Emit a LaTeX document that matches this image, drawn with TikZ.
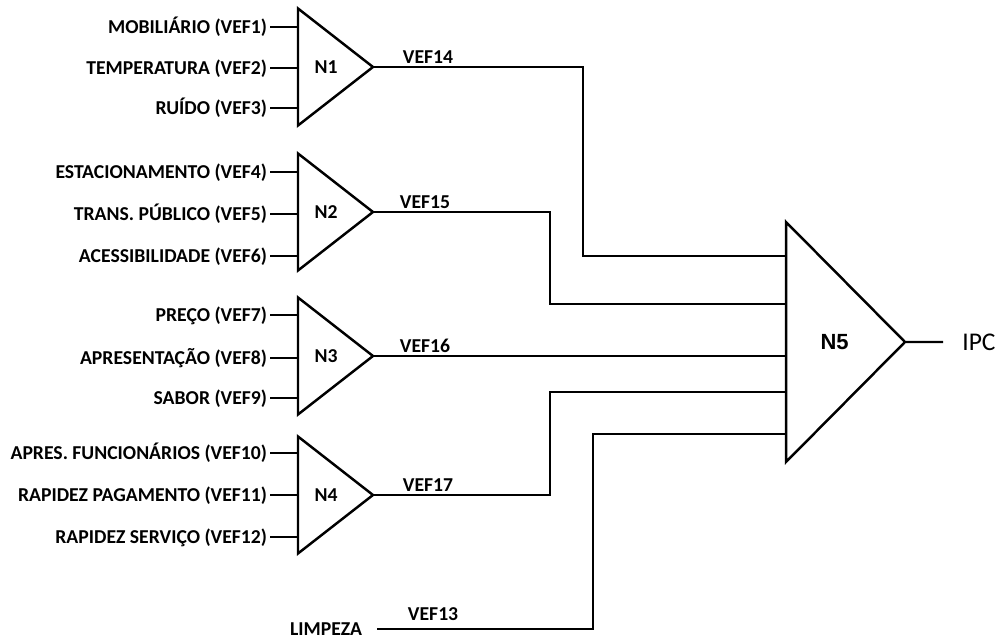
\documentclass[tikz,border=0pt]{standalone}
\usepackage{fontspec}
\setmainfont{Carlito}
\newfontfamily\arialfont{Liberation Sans}
\usetikzlibrary{shapes.geometric,calc}

\tikzset{
	wire/.style={line width=1.4pt},
	lab/.style={font=\bfseries\fontsize{11.2pt}{13pt}\selectfont, inner xsep=1.5pt, inner ysep=0pt, text height=7.2pt, text depth=0pt},
	neuron/.style={draw, line width=1.4pt, isosceles triangle, isosceles triangle stretches, inner sep=0pt, outer sep=0pt, anchor=west, minimum height=1.5cm, minimum width=2.34cm, font=\bfseries\fontsize{11.2pt}{13pt}\selectfont},
}

\begin{document}
\begin{tikzpicture}[x=0.02cm, y=-0.02cm]
			\useasboundingbox (0,0) rectangle (1003,641);
			% first layer
			\node[neuron] (n1) at (298,67) {N1};
			\node[neuron] (n2) at (298,212) {N2};
			\node[neuron] (n3) at (298,356) {N3};
			\node[neuron] (n4) at (298,495) {N4};
			\node[neuron, minimum height=2.38cm, minimum width=4.8cm, font=\arialfont\bfseries\fontsize{12.5pt}{14pt}\selectfont] (n5) at (786,342) {N5};
			% inputs
			\foreach \name/\net/\yy/\txt in {m1/n1/27/MOBILIÁRIO (VEF1), m2/n1/68/TEMPERATURA (VEF2), m3/n1/108/RUÍDO (VEF3),
				m4/n2/172/ESTACIONAMENTO (VEF4), m5/n2/214/TRANS. PÚBLICO (VEF5), m6/n2/256/ACESSIBILIDADE (VEF6),
				m7/n3/315/PREÇO (VEF7), m8/n3/358/APRESENTAÇÃO (VEF8), m9/n3/398/SABOR (VEF9),
				m10/n4/453/APRES. FUNCIONÁRIOS (VEF10), m11/n4/495/RAPIDEZ PAGAMENTO (VEF11), m12/n4/537/RAPIDEZ SERVIÇO (VEF12)}{
				\node[lab, anchor=east] (\name) at (270,\yy) {\txt};
				\draw[wire] (\name.east) -- (\name.east -| \net.west);
			}
			\node[lab, anchor=east] (lim) at (365,629) {LIMPEZA};
			% inputs of N5
			\path (n5.west) ++(0,-86) coordinate (i1);
			\path (n5.west) ++(0,-38) coordinate (i2);
			\path (n5.west) ++(0,50) coordinate (i4);
			\path (n5.west) ++(0,92) coordinate (i5);
			\draw[wire] (n1.apex) -- ++(210,0) |- (i1);
			\draw[wire] (n2.apex) -- ++(177,0) |- (i2);
			\draw[wire] (n3.apex) -- (n3.apex -| n5.west);
			\draw[wire] (n4.apex) -- ++(177,0) |- (i4);
			\draw[wire] ([xshift=0.24cm]lim.east) -- ++(216,0) |- (i5);
			\node[lab, anchor=south west] (v14) at ($(n1.apex)+(27,-3)$) {VEF14};
			\node[lab, anchor=south west] (v15) at ($(n2.apex)+(24,-3)$) {VEF15};
			\node[lab, anchor=south west] (v16) at ($(n3.apex)+(24,-3)$) {VEF16};
			\node[lab, anchor=south west] (v17) at ($(n4.apex)+(27,-3)$) {VEF17};
			\node[lab, anchor=south west] (v13) at ($(lim.east)+(40,-8)$) {VEF13};
			% output
			\node[anchor=west, inner sep=0pt, font=\fontsize{14.5pt}{16pt}\selectfont] (ipc) at (962,342) {IPC};
			\draw[wire] (n5.apex) -- ([xshift=-0.38cm]ipc.west);
\end{tikzpicture}
\end{document}
